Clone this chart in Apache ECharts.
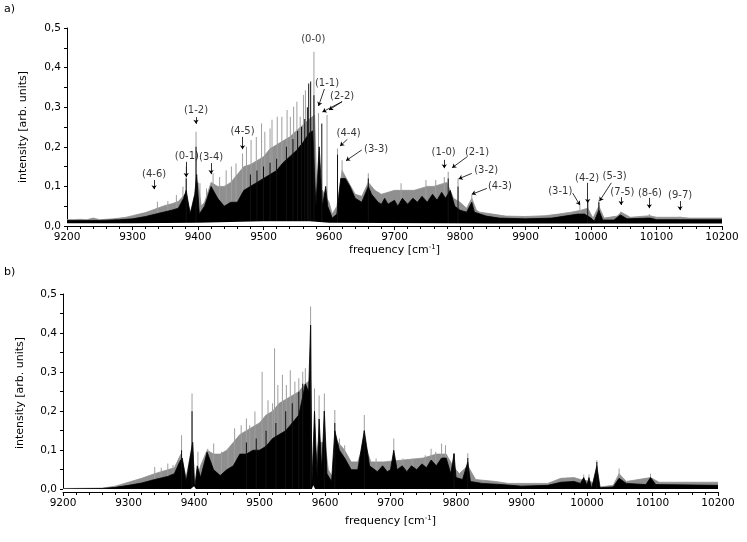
<!DOCTYPE html>
<html>
<head>
<meta charset="utf-8">
<script src="https://cdn.jsdelivr.net/npm/echarts@6/dist/echarts.min.js"></script>
<style>
  html, body { margin: 0; padding: 0; background: #fff; }
  #chart { width: 747px; height: 542px; }
</style>
</head>
<body>
<div id="chart"></div>
<script>
'use strict';
// ---- panel a) ----
var grayTopA = [[9200,0.016],[9210,0.016],[9220,0.017],[9230,0.016],[9240,0.02],[9250,0.016],[9260,0.017],[9270,0.018],[9280,0.02],[9290,0.022],[9300,0.026],[9310,0.03],[9320,0.034],[9330,0.04],[9340,0.046],[9350,0.052],[9360,0.056],[9370,0.062],[9380,0.08],[9390,0.03],[9400,0.11],[9405,0.05],[9410,0.06],[9420,0.11],[9430,0.1],[9440,0.1],[9450,0.11],[9460,0.13],[9470,0.15],[9480,0.155],[9490,0.165],[9500,0.175],[9510,0.195],[9520,0.205],[9530,0.215],[9540,0.225],[9550,0.24],[9560,0.255],[9570,0.27],[9578,0.28],[9582,0.06],[9590,0.09],[9600,0.06],[9605,0.03],[9612,0.05],[9620,0.14],[9630,0.11],[9640,0.08],[9650,0.075],[9660,0.11],[9670,0.09],[9680,0.08],[9690,0.085],[9700,0.09],[9710,0.09],[9720,0.09],[9730,0.09],[9740,0.095],[9750,0.1],[9760,0.1],[9770,0.105],[9780,0.11],[9790,0.07],[9800,0.06],[9810,0.045],[9818,0.07],[9825,0.04],[9830,0.035],[9850,0.03],[9870,0.025],[9900,0.024],[9930,0.026],[9950,0.03],[9970,0.035],[9985,0.04],[9995,0.045],[10003,0.02],[10012,0.05],[10020,0.02],[10040,0.025],[10046,0.035],[10060,0.022],[10090,0.026],[10100,0.022],[10136,0.022],[10150,0.02],[10200,0.02]];
var blackTopA = [[9200,0.014],[9250,0.014],[9280,0.016],[9300,0.018],[9320,0.024],[9340,0.032],[9360,0.04],[9370,0.045],[9378,0.07],[9382,0.09],[9388,0.03],[9395,0.08],[9398,0.13],[9402,0.03],[9410,0.05],[9420,0.1],[9430,0.07],[9440,0.05],[9450,0.06],[9460,0.06],[9470,0.09],[9480,0.1],[9490,0.11],[9500,0.12],[9510,0.13],[9520,0.14],[9530,0.16],[9540,0.175],[9550,0.19],[9560,0.21],[9570,0.235],[9575,0.24],[9580,0.05],[9585,0.2],[9590,0.05],[9595,0.1],[9598,0.05],[9605,0.02],[9612,0.03],[9618,0.12],[9625,0.12],[9632,0.1],[9640,0.07],[9650,0.06],[9660,0.1],[9665,0.08],[9675,0.06],[9680,0.055],[9685,0.07],[9690,0.055],[9700,0.065],[9705,0.05],[9712,0.07],[9720,0.055],[9728,0.07],[9735,0.06],[9742,0.075],[9750,0.06],[9758,0.08],[9765,0.065],[9772,0.085],[9778,0.07],[9785,0.09],[9792,0.05],[9800,0.04],[9810,0.035],[9818,0.06],[9822,0.035],[9840,0.025],[9860,0.02],[9900,0.018],[9940,0.02],[9960,0.025],[9980,0.03],[9990,0.03],[10000,0.02],[10005,0.012],[10012,0.04],[10018,0.015],[10035,0.015],[10045,0.028],[10055,0.018],[10090,0.02],[10100,0.016],[10200,0.016]];
var bottomA = [[9200,0.007],[9300,0.007],[9400,0.008],[9450,0.01],[9500,0.012],[9570,0.012],[9600,0.008],[9850,0.006],[10200,0.006]];
var sticksA = [[9338,0.061],[9354,0.063],[9367,0.078],[9377,0.099],[9382,0.15],[9397,0.238],[9403,0.108],[9413,0.095],[9423,0.133],[9433,0.124],[9443,0.141],[9451,0.15],[9458,0.158],[9468,0.183],[9474,0.2],[9481,0.217],[9489,0.225],[9497,0.259],[9502,0.238],[9510,0.246],[9513,0.268],[9521,0.276],[9528,0.276],[9536,0.293],[9541,0.276],[9546,0.301],[9551,0.314],[9556,0.276],[9561,0.331],[9564,0.343],[9577,0.44],[9584,0.285],[9597,0.28],[9613,0.196],[9620,0.166],[9660,0.133],[9710,0.108],[9748,0.116],[9763,0.116],[9776,0.124],[9782,0.137],[9797,0.12],[9818,0.078],[9983,0.058],[9995,0.066],[10012,0.066],[10045,0.036],[10089,0.03],[10136,0.024]];
var darkSticksA = [[9382,0.12],[9397,0.2],[9480,0.13],[9490,0.14],[9500,0.15],[9510,0.16],[9520,0.17],[9535,0.2],[9545,0.22],[9552,0.24],[9558,0.25],[9563,0.27],[9567,0.3],[9569,0.36],[9572,0.365],[9577,0.33],[9589,0.259],[9613,0.18],[9660,0.12],[9782,0.12],[9797,0.1],[9995,0.06],[10012,0.06]];
var namesA = ['(4-6)','(0-1)','(1-2)','(3-4)','(4-5)','(0-0)','(1-1)','(2-2)','(4-4)','(3-3)','(1-0)','(2-1)','(3-2)','(4-3)','(3-1)','(4-2)','(5-3)','(7-5)','(8-6)','(9-7)'];
var labelPosA = [[9333,0.131],[9383,0.175],[9397,0.293],[9420,0.174],[9468,0.240],[9576,0.472],[9597,0.361],[9620,0.328],[9630,0.235],[9672,0.194],[9775,0.186],[9826,0.186],[9840,0.140],[9861,0.099],[9953,0.087],[9994,0.119],[10036,0.124],[10048,0.084],[10090,0.083],[10136,0.078]];
var arrowsA = [[9333,0.116,9333,0.093],[9382,0.162,9382,0.124],[9397,0.275,9397,0.258],[9420,0.159,9420,0.131],[9468,0.225,9468,0.194],[9593,0.346,9584,0.303],[9620,0.314,9590,0.288],[9620,0.314,9600,0.293],[9628,0.219,9617,0.202],[9650,0.192,9626,0.165],[9776,0.167,9776,0.146],[9811,0.175,9788,0.147],[9818,0.133,9798,0.119],[9841,0.095,9818,0.080],[9972,0.083,9983,0.053],[9995,0.109,9995,0.058],[10031,0.109,10013,0.063],[10046,0.073,10046,0.053],[10089,0.071,10089,0.045],[10136,0.063,10136,0.040]];

// ---- panel b) ----
var grayTopB = [[9200,0.002],[9260,0.003],[9280,0.008],[9300,0.018],[9320,0.028],[9340,0.04],[9360,0.05],[9370,0.055],[9380,0.09],[9388,0.03],[9398,0.12],[9401,0.002],[9410,0.06],[9420,0.1],[9430,0.09],[9440,0.09],[9450,0.1],[9460,0.12],[9470,0.14],[9480,0.15],[9490,0.16],[9500,0.17],[9510,0.19],[9520,0.2],[9530,0.22],[9540,0.23],[9550,0.24],[9560,0.25],[9570,0.27],[9578,0.28],[9580,0.02],[9590,0.12],[9600,0.12],[9605,0.05],[9612,0.03],[9620,0.12],[9630,0.1],[9640,0.07],[9650,0.07],[9660,0.12],[9670,0.07],[9690,0.07],[9720,0.075],[9750,0.08],[9770,0.09],[9785,0.09],[9795,0.06],[9805,0.04],[9818,0.06],[9830,0.025],[9860,0.02],[9880,0.015],[9940,0.015],[9960,0.028],[9980,0.03],[9990,0.025],[10005,0.02],[10020,0.006],[10040,0.01],[10049,0.04],[10060,0.02],[10097,0.03],[10110,0.018],[10200,0.018]];
var blackTopB = [[9200,0.001],[9260,0.002],[9280,0.005],[9300,0.01],[9320,0.016],[9340,0.025],[9360,0.033],[9370,0.04],[9378,0.07],[9382,0.08],[9388,0.02],[9395,0.09],[9398,0.12],[9401,0.002],[9405,0.06],[9410,0.03],[9420,0.095],[9430,0.05],[9440,0.035],[9450,0.05],[9460,0.06],[9470,0.09],[9480,0.09],[9490,0.1],[9500,0.1],[9510,0.11],[9520,0.13],[9530,0.14],[9540,0.15],[9550,0.17],[9560,0.19],[9570,0.27],[9575,0.25],[9578,0.42],[9580,0.01],[9584,0.2],[9588,0.03],[9591,0.18],[9595,0.05],[9599,0.2],[9603,0.04],[9610,0.02],[9615,0.15],[9622,0.1],[9630,0.08],[9640,0.05],[9650,0.05],[9660,0.15],[9668,0.06],[9680,0.045],[9688,0.06],[9695,0.045],[9700,0.05],[9705,0.1],[9710,0.05],[9718,0.06],[9725,0.045],[9732,0.06],[9740,0.05],[9748,0.065],[9755,0.055],[9762,0.075],[9770,0.06],[9778,0.08],[9785,0.08],[9792,0.04],[9797,0.09],[9800,0.03],[9810,0.025],[9818,0.07],[9822,0.02],[9840,0.015],[9870,0.012],[9900,0.008],[9940,0.01],[9960,0.018],[9980,0.02],[9990,0.015],[9995,0.03],[10000,0.01],[10003,0.03],[10007,0.002],[10015,0.06],[10020,0.004],[10040,0.006],[10049,0.028],[10060,0.015],[10090,0.012],[10097,0.03],[10105,0.012],[10200,0.01]];
var bottomB = [[9200,0.0005],[9395,0.001],[9400,0.008],[9403,0.001],[9420,0.001],[9422,0.006],[9425,0.001],[9470,0.001],[9472,0.006],[9475,0.001],[9580,0.001],[9582,0.01],[9585,0.001],[10200,0.001]];
var sticksB = [[9340,0.057],[9350,0.055],[9360,0.066],[9368,0.062],[9381,0.138],[9397,0.245],[9406,0.096],[9421,0.104],[9430,0.117],[9442,0.096],[9452,0.104],[9462,0.156],[9472,0.164],[9480,0.181],[9485,0.164],[9493,0.199],[9504,0.301],[9513,0.228],[9520,0.22],[9523,0.361],[9528,0.267],[9535,0.293],[9541,0.267],[9547,0.305],[9554,0.276],[9560,0.284],[9566,0.301],[9570,0.31],[9578,0.468],[9584,0.258],[9591,0.24],[9599,0.245],[9615,0.203],[9622,0.13],[9630,0.113],[9660,0.19],[9678,0.079],[9705,0.13],[9719,0.079],[9734,0.079],[9753,0.087],[9762,0.104],[9769,0.096],[9778,0.117],[9784,0.113],[9797,0.092],[9818,0.092],[9995,0.038],[10003,0.038],[10015,0.074],[10049,0.053],[10097,0.04]];
var darkSticksB = [[9381,0.1],[9397,0.2],[9480,0.12],[9495,0.13],[9510,0.15],[9525,0.17],[9540,0.2],[9550,0.22],[9560,0.25],[9566,0.27],[9578,0.42],[9599,0.2],[9615,0.17],[9660,0.15],[9797,0.092],[9818,0.08],[10015,0.07]];

var yTicks = [0, 0.05, 0.1, 0.15, 0.2, 0.25, 0.3, 0.35, 0.4, 0.45, 0.5];
var yLabels = [0, 0.1, 0.2, 0.3, 0.4, 0.5];

var FONT = 'DejaVu Sans';
function comma(v) { return v.toFixed(1).replace('.', ','); }

function xAxisFor(gridIndex, nameGap) {
  return {
    gridIndex: gridIndex, type: 'value', min: 9200, max: 10200, interval: 100,
    name: 'frequency [cm{sup|-1}]', nameLocation: 'middle', nameGap: nameGap,
    nameTextStyle: { color: '#000', fontFamily: FONT, fontSize: 11,
      rich: { sup: { fontSize: 7, verticalAlign: 'top', padding: [0, 0, 6, 0], fontFamily: FONT } } },
    axisLine: { onZero: false, lineStyle: { color: '#000', width: 1 } },
    axisTick: { length: 4, lineStyle: { color: '#000' } },
    minorTick: { show: true, splitNumber: 5, length: 3, lineStyle: { color: '#000' } },
    splitLine: { show: false },
    axisLabel: { color: '#000', fontFamily: FONT, fontSize: 10.5, margin: 6,
      formatter: function (v) { return String(v); } }
  };
}
function yAxisFor(gridIndex, min, nameGap) {
  return {
    gridIndex: gridIndex, type: 'value', min: min, max: 0.5,
    name: 'intensity [arb. units]', nameLocation: 'middle', nameGap: nameGap,
    nameTextStyle: { color: '#000', fontFamily: FONT, fontSize: 11 },
    axisLine: { onZero: false, lineStyle: { color: '#000', width: 1 } },
    axisTick: { length: 3, customValues: yTicks, lineStyle: { color: '#000' } },
    splitLine: { show: false },
    axisLabel: { color: '#000', fontFamily: FONT, fontSize: 10.5, margin: 6,
      customValues: yLabels, formatter: comma }
  };
}

function areaSeries(idx, data, color, z) {
  return {
    type: 'line', xAxisIndex: idx, yAxisIndex: idx, data: data, z: z,
    showSymbol: false, silent: true, animation: false,
    lineStyle: { color: color, width: 0.8 },
    areaStyle: { color: color, opacity: 1, origin: 'start' }
  };
}
function stickSeries(idx, data, color, z) {
  return {
    type: 'bar', xAxisIndex: idx, yAxisIndex: idx, data: data, z: z,
    barWidth: 1, barGap: '-100%', silent: true, animation: false,
    itemStyle: { color: color }
  };
}
function bottomSeries(idx, data) {
  return {
    type: 'line', xAxisIndex: idx, yAxisIndex: idx, data: data, z: 9,
    showSymbol: false, silent: true, animation: false,
    lineStyle: { width: 0 },
    areaStyle: { color: '#fff', opacity: 1, origin: 'start' }
  };
}

var labelData = namesA.map(function (n, i) { return [labelPosA[i][0], labelPosA[i][1], n]; });
var arrowData = arrowsA.map(function (a) { return [{ coord: [a[0], a[1]] }, { coord: [a[2], a[3]] }]; });

var chart = echarts.init(document.getElementById('chart'));
chart.setOption({
  backgroundColor: '#fff',
  animation: false,
  grid: [
    { left: 67, right: 25, top: 28, bottom: 316 },
    { left: 63, right: 29, top: 294, bottom: 50 }
  ],
  xAxis: [xAxisFor(0, 17), xAxisFor(1, 23)],
  yAxis: [yAxisFor(0, 0, 38), yAxisFor(1, -0.007, 37)],
  graphic: [
    { type: 'text', left: 4, top: 4, style: { text: 'a)', font: '11px DejaVu Sans', fill: '#000' } },
    { type: 'text', left: 4, top: 267, style: { text: 'b)', font: '11px DejaVu Sans', fill: '#000' } }
  ],
  series: [
    areaSeries(0, grayTopA, '#8f8f8f', 2),
    stickSeries(0, sticksA, '#9e9e9e', 3),
    areaSeries(0, blackTopA, '#000', 5),
    stickSeries(0, darkSticksA, '#111', 6),
    bottomSeries(0, bottomA),
    areaSeries(1, grayTopB, '#8f8f8f', 2),
    stickSeries(1, sticksB, '#9e9e9e', 3),
    areaSeries(1, blackTopB, '#000', 5),
    stickSeries(1, darkSticksB, '#111', 6),
    bottomSeries(1, bottomB),
    {
      type: 'scatter', xAxisIndex: 0, yAxisIndex: 0, data: labelData, z: 20,
      symbolSize: 1, itemStyle: { color: 'rgba(0,0,0,0)' }, silent: true,
      label: { show: true, position: 'inside', color: '#000', fontFamily: FONT, fontSize: 10,
        formatter: function (p) { return p.data[2]; } },
      markLine: {
        silent: true, animation: false, symbol: ['none', 'arrow'], symbolSize: 4,
        label: { show: false },
        lineStyle: { color: '#000', width: 0.8, type: 'solid' },
        data: arrowData
      }
    }
  ]
});
</script>
</body>
</html>
